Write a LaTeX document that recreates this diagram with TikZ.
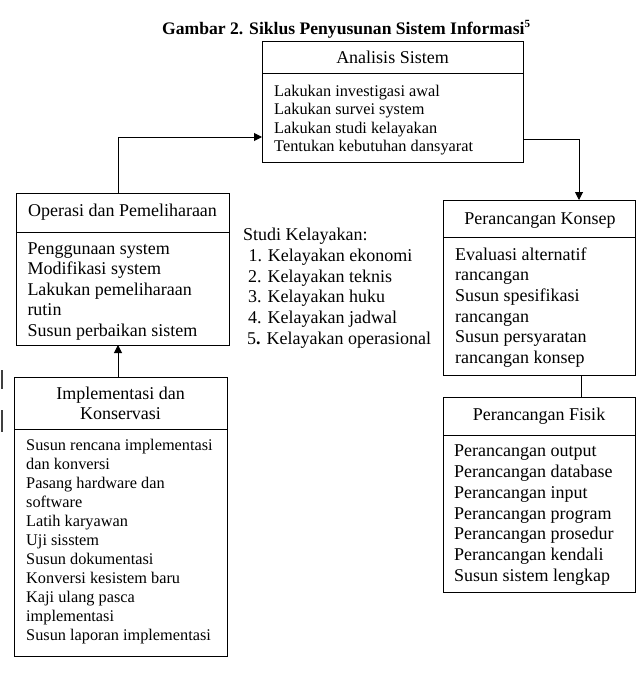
\documentclass[tikz,border=0pt]{standalone}
\usepackage{fontspec}
\setmainfont{Liberation Serif}
\usetikzlibrary{arrows.meta}
\begin{document}
\begin{tikzpicture}[x=1pt,y=-1pt,
  part/.style={draw, line width=1pt, inner sep=0pt, outer sep=0pt},
  sm/.style={font=\fontsize{16.3}{18.3}\selectfont},
  bg/.style={font=\fontsize{18}{20.7}\selectfont},
  ln/.style={inner sep=0pt, anchor=base west},
  hd/.style={inner sep=0pt, anchor=base},
  arr/.style={line width=1pt, -{Triangle[length=8pt,width=8pt]}},
  con/.style={line width=1pt},
  edge mark/.style={line width=2pt, black!75}]
\useasboundingbox[fill=white] (0,0) rectangle (640,682);

% title
\node[inner sep=0pt, anchor=base west, font=\bfseries\fontsize{17.6}{20}\selectfont] (title) at (162,35)
  {Gambar 2. Siklus Penyusunan Sistem Informasi\raisebox{7pt}{\fontsize{11}{12}\selectfont 5}};

% boxes
\node[part, minimum width=261pt, minimum height=32pt] (anaH) at (392.5,58) {};
\node[part, minimum width=261pt, minimum height=88pt] (anaB) at (392.5,118) {};
\node[part, minimum width=213pt, minimum height=39pt] (opH) at (122.5,212.5) {};
\node[part, minimum width=213pt, minimum height=113pt] (opB) at (122.5,288.5) {};
\node[part, minimum width=213pt, minimum height=52pt] (imH) at (120.5,403) {};
\node[part, minimum width=213pt, minimum height=227pt] (imB) at (120.5,542.5) {};
\node[part, minimum width=192pt, minimum height=37pt] (koH) at (539,218.5) {};
\node[part, minimum width=192pt, minimum height=138pt] (koB) at (539,306) {};
\node[part, minimum width=192pt, minimum height=38pt] (fiH) at (539,416) {};
\node[part, minimum width=192pt, minimum height=157pt] (fiB) at (539,513.5) {};

% headers
\node[hd, bg] (anaHT) at (392.5,64) {Analisis Sistem};
\node[hd, bg] (opHT) at (122.5,216) {Operasi dan Pemeliharaan};
\node[hd, bg] (imHT1) at (120.5,399) {Implementasi dan};
\node[hd, bg] (imHT2) at (120.5,419) {Konservasi};
\node[hd, bg] (koHT) at (540,224) {Perancangan Konsep};
\node[hd, bg] (fiHT) at (539,420) {Perancangan Fisik};

% bodies
\foreach [count=\i] \t in {Lakukan investigasi awal, Lakukan survei system, Lakukan studi kelayakan, Tentukan kebutuhan dansyarat}
  \node[ln, sm] (anaT\i) at (274, {96.7+18.3*(\i-1)}) {\t};
\foreach [count=\i] \t in {Penggunaan system, Modifikasi system, Lakukan pemeliharaan, rutin, Susun perbaikan sistem}
  \node[ln, bg] (opT\i) at (27.3, {254+20.5*(\i-1)}) {\t};
\foreach [count=\i] \t in {Susun rencana implementasi, dan konversi, Pasang hardware dan, software, Latih karyawan, Uji sisstem, Susun dokumentasi, Konversi kesistem baru, Kaji ulang pasca, implementasi, Susun laporan implementasi}
  \node[ln, sm] (imT\i) at (26, {450+19*(\i-1)}) {\t};
\foreach [count=\i] \t in {Evaluasi alternatif, rancangan, Susun spesifikasi, rancangan, Susun persyaratan, rancangan konsep}
  \node[ln, bg] (koT\i) at (455, {260+20.7*(\i-1)}) {\t};
\foreach [count=\i] \t in {Perancangan output, Perancangan database, Perancangan input, Perancangan program, Perancangan prosedur, Perancangan kendali, Susun sistem lengkap}
  \node[ln, bg] (fiT\i) at (454, {456.7+20.8*(\i-1)}) {\t};

% studi kelayakan
\node[ln, bg] (st0) at (243,240.7) {Studi Kelayakan:};
\node[ln, bg] (st1) at (248.3,261.4) {1. Kelayakan ekonomi};
\node[ln, bg] (st2) at (248,282.1) {2. Kelayakan teknis};
\node[ln, bg] (st3) at (248,302.8) {3. Kelayakan huku};
\node[ln, bg] (st4) at (248,323.5) {4. Kelayakan jadwal};
\node[ln, bg] (st5) at (247,344.2) {5\textbf{.} Kelayakan operasional};

% connectors
\draw[arr] ([xshift=-4.5pt]opH.north) |- ([yshift=-19pt]anaB.west);
\draw[arr] ([yshift=-21pt]anaB.east) -| ([xshift=40pt]koH.north);
\draw[arr] ([xshift=-2.5pt]imH.north) -- ([xshift=-2.5pt]imH.north |- opB.south);
\draw[con] ([xshift=42pt]koB.south) -- ([xshift=42pt]koB.south |- fiH.north);

% marks at the left edge
\draw[edge mark] (1.5,370) -- (1.5,389);
\draw[edge mark] (1.5,410) -- (1.5,432);
\end{tikzpicture}
\end{document}
